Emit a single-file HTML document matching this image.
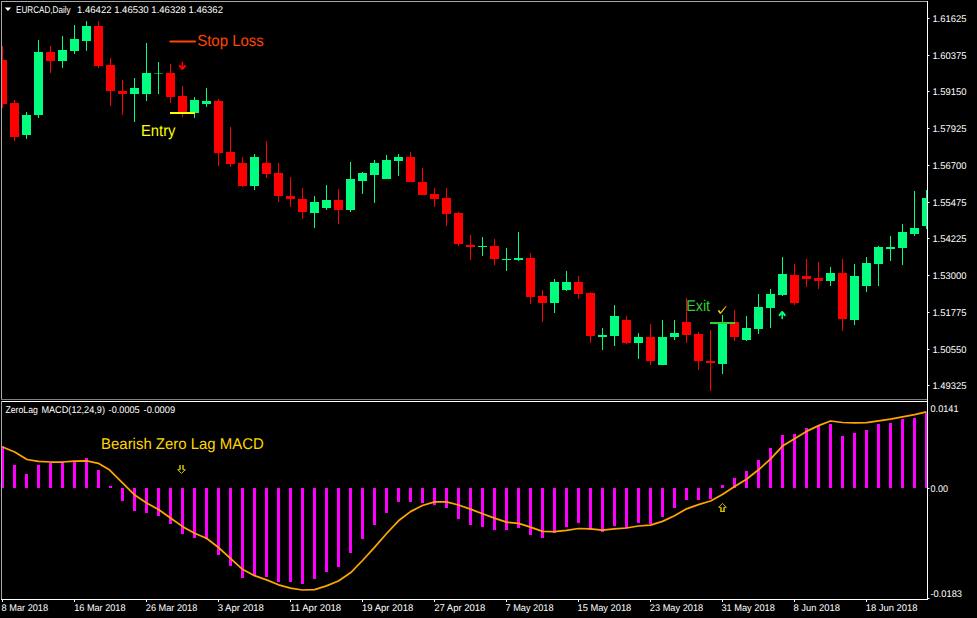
<!DOCTYPE html><html><head><meta charset="utf-8"><style>html,body{margin:0;padding:0;background:#000;}body{width:977px;height:618px;overflow:hidden;font-family:"Liberation Sans",sans-serif;}</style></head><body><svg width="977" height="618" viewBox="0 0 977 618" style="display:block">
<rect width="977" height="618" fill="#000"/>
<defs><clipPath id="cm"><rect x="2" y="2" width="925" height="397"/></clipPath><clipPath id="ci"><rect x="2" y="402" width="925" height="197"/></clipPath></defs>
<g clip-path="url(#cm)" shape-rendering="crispEdges">
<rect x="2" y="46" width="1" height="62" fill="#ff0000"/>
<rect x="-2" y="60" width="9" height="44" fill="#ff0000"/>
<rect x="14" y="100" width="1" height="41" fill="#ff0000"/>
<rect x="10" y="103" width="9" height="34" fill="#ff0000"/>
<rect x="26" y="112" width="1" height="27" fill="#00ff7f"/>
<rect x="22" y="115" width="9" height="20" fill="#00ff7f"/>
<rect x="38" y="40" width="1" height="78" fill="#00ff7f"/>
<rect x="34" y="52" width="9" height="63" fill="#00ff7f"/>
<rect x="50" y="46" width="1" height="27" fill="#ff0000"/>
<rect x="46" y="52" width="9" height="9" fill="#ff0000"/>
<rect x="62" y="36" width="1" height="32" fill="#00ff7f"/>
<rect x="58" y="50" width="9" height="11" fill="#00ff7f"/>
<rect x="74" y="25" width="1" height="29" fill="#00ff7f"/>
<rect x="70" y="39" width="9" height="12" fill="#00ff7f"/>
<rect x="86" y="21" width="1" height="30" fill="#00ff7f"/>
<rect x="82" y="26" width="9" height="15" fill="#00ff7f"/>
<rect x="98" y="21" width="1" height="47" fill="#ff0000"/>
<rect x="94" y="26" width="9" height="40" fill="#ff0000"/>
<rect x="110" y="58" width="1" height="48" fill="#ff0000"/>
<rect x="106" y="65" width="9" height="26" fill="#ff0000"/>
<rect x="122" y="80" width="1" height="35" fill="#ff0000"/>
<rect x="118" y="91" width="9" height="3" fill="#ff0000"/>
<rect x="134" y="78" width="1" height="44" fill="#00ff7f"/>
<rect x="130" y="88" width="9" height="6" fill="#00ff7f"/>
<rect x="146" y="43" width="1" height="58" fill="#00ff7f"/>
<rect x="142" y="73" width="9" height="21" fill="#00ff7f"/>
<rect x="158" y="62" width="1" height="32" fill="#00ff7f"/>
<rect x="154" y="73" width="9" height="1" fill="#00ff7f" opacity="0.5"/>
<rect x="170" y="64" width="1" height="39" fill="#ff0000"/>
<rect x="166" y="73" width="9" height="24" fill="#ff0000"/>
<rect x="182" y="86" width="1" height="31" fill="#ff0000"/>
<rect x="178" y="96" width="9" height="17" fill="#ff0000"/>
<rect x="194" y="97" width="1" height="21" fill="#00ff7f"/>
<rect x="190" y="100" width="9" height="13" fill="#00ff7f"/>
<rect x="206" y="88" width="1" height="19" fill="#00ff7f"/>
<rect x="202" y="101" width="9" height="3" fill="#00ff7f"/>
<rect x="218" y="99" width="1" height="67" fill="#ff0000"/>
<rect x="214" y="101" width="9" height="52" fill="#ff0000"/>
<rect x="230" y="127" width="1" height="40" fill="#ff0000"/>
<rect x="226" y="152" width="9" height="12" fill="#ff0000"/>
<rect x="242" y="157" width="1" height="30" fill="#ff0000"/>
<rect x="238" y="163" width="9" height="23" fill="#ff0000"/>
<rect x="254" y="154" width="1" height="36" fill="#00ff7f"/>
<rect x="250" y="157" width="9" height="29" fill="#00ff7f"/>
<rect x="266" y="141" width="1" height="37" fill="#ff0000"/>
<rect x="262" y="163" width="9" height="11" fill="#ff0000"/>
<rect x="278" y="163" width="1" height="39" fill="#ff0000"/>
<rect x="274" y="173" width="9" height="23" fill="#ff0000"/>
<rect x="290" y="177" width="1" height="30" fill="#ff0000"/>
<rect x="286" y="196" width="9" height="3" fill="#ff0000"/>
<rect x="302" y="188" width="1" height="31" fill="#ff0000"/>
<rect x="298" y="199" width="9" height="13" fill="#ff0000"/>
<rect x="314" y="196" width="1" height="32" fill="#00ff7f"/>
<rect x="310" y="202" width="9" height="11" fill="#00ff7f"/>
<rect x="326" y="185" width="1" height="25" fill="#00ff7f"/>
<rect x="322" y="200" width="9" height="8" fill="#00ff7f"/>
<rect x="338" y="189" width="1" height="35" fill="#ff0000"/>
<rect x="334" y="200" width="9" height="10" fill="#ff0000"/>
<rect x="350" y="162" width="1" height="50" fill="#00ff7f"/>
<rect x="346" y="179" width="9" height="31" fill="#00ff7f"/>
<rect x="362" y="172" width="1" height="22" fill="#00ff7f"/>
<rect x="358" y="173" width="9" height="8" fill="#00ff7f"/>
<rect x="374" y="160" width="1" height="43" fill="#00ff7f"/>
<rect x="370" y="163" width="9" height="12" fill="#00ff7f"/>
<rect x="386" y="155" width="1" height="24" fill="#00ff7f"/>
<rect x="382" y="160" width="9" height="19" fill="#00ff7f"/>
<rect x="398" y="154" width="1" height="22" fill="#00ff7f"/>
<rect x="394" y="157" width="9" height="4" fill="#00ff7f"/>
<rect x="410" y="152" width="1" height="30" fill="#ff0000"/>
<rect x="406" y="157" width="9" height="25" fill="#ff0000"/>
<rect x="422" y="168" width="1" height="27" fill="#ff0000"/>
<rect x="418" y="182" width="9" height="13" fill="#ff0000"/>
<rect x="434" y="188" width="1" height="19" fill="#ff0000"/>
<rect x="430" y="194" width="9" height="5" fill="#ff0000"/>
<rect x="446" y="188" width="1" height="38" fill="#ff0000"/>
<rect x="442" y="198" width="9" height="16" fill="#ff0000"/>
<rect x="458" y="212" width="1" height="34" fill="#ff0000"/>
<rect x="454" y="213" width="9" height="31" fill="#ff0000"/>
<rect x="470" y="235" width="1" height="25" fill="#ff0000"/>
<rect x="466" y="245" width="9" height="2" fill="#ff0000"/>
<rect x="482" y="237" width="1" height="19" fill="#00ff7f"/>
<rect x="478" y="246" width="9" height="1" fill="#00ff7f"/>
<rect x="494" y="239" width="1" height="26" fill="#ff0000"/>
<rect x="490" y="246" width="9" height="13" fill="#ff0000"/>
<rect x="506" y="248" width="1" height="23" fill="#00ff7f"/>
<rect x="502" y="259" width="9" height="1" fill="#00ff7f"/>
<rect x="518" y="232" width="1" height="29" fill="#00ff7f"/>
<rect x="514" y="258" width="9" height="2" fill="#00ff7f"/>
<rect x="530" y="253" width="1" height="51" fill="#ff0000"/>
<rect x="526" y="258" width="9" height="39" fill="#ff0000"/>
<rect x="542" y="290" width="1" height="32" fill="#ff0000"/>
<rect x="538" y="296" width="9" height="7" fill="#ff0000"/>
<rect x="554" y="279" width="1" height="34" fill="#00ff7f"/>
<rect x="550" y="282" width="9" height="21" fill="#00ff7f"/>
<rect x="566" y="271" width="1" height="20" fill="#00ff7f"/>
<rect x="562" y="282" width="9" height="8" fill="#00ff7f"/>
<rect x="578" y="276" width="1" height="23" fill="#ff0000"/>
<rect x="574" y="282" width="9" height="12" fill="#ff0000"/>
<rect x="590" y="292" width="1" height="51" fill="#ff0000"/>
<rect x="586" y="293" width="9" height="43" fill="#ff0000"/>
<rect x="602" y="328" width="1" height="22" fill="#00ff7f"/>
<rect x="598" y="335" width="9" height="2" fill="#00ff7f"/>
<rect x="614" y="305" width="1" height="41" fill="#00ff7f"/>
<rect x="610" y="316" width="9" height="20" fill="#00ff7f"/>
<rect x="626" y="316" width="1" height="28" fill="#ff0000"/>
<rect x="622" y="320" width="9" height="23" fill="#ff0000"/>
<rect x="638" y="333" width="1" height="26" fill="#00ff7f"/>
<rect x="634" y="337" width="9" height="6" fill="#00ff7f"/>
<rect x="650" y="324" width="1" height="41" fill="#ff0000"/>
<rect x="646" y="337" width="9" height="24" fill="#ff0000"/>
<rect x="662" y="320" width="1" height="45" fill="#00ff7f"/>
<rect x="658" y="337" width="9" height="28" fill="#00ff7f"/>
<rect x="674" y="320" width="1" height="20" fill="#00ff7f"/>
<rect x="670" y="333" width="9" height="4" fill="#00ff7f"/>
<rect x="686" y="298" width="1" height="45" fill="#ff0000"/>
<rect x="682" y="322" width="9" height="13" fill="#ff0000"/>
<rect x="698" y="332" width="1" height="38" fill="#ff0000"/>
<rect x="694" y="334" width="9" height="27" fill="#ff0000"/>
<rect x="710" y="330" width="1" height="61" fill="#ff0000"/>
<rect x="706" y="361" width="9" height="2" fill="#ff0000"/>
<rect x="722" y="315" width="1" height="59" fill="#00ff7f"/>
<rect x="718" y="323" width="9" height="41" fill="#00ff7f"/>
<rect x="734" y="310" width="1" height="31" fill="#ff0000"/>
<rect x="730" y="322" width="9" height="15" fill="#ff0000"/>
<rect x="746" y="316" width="1" height="25" fill="#00ff7f"/>
<rect x="742" y="328" width="9" height="12" fill="#00ff7f"/>
<rect x="758" y="294" width="1" height="40" fill="#00ff7f"/>
<rect x="754" y="307" width="9" height="22" fill="#00ff7f"/>
<rect x="770" y="289" width="1" height="39" fill="#00ff7f"/>
<rect x="766" y="294" width="9" height="14" fill="#00ff7f"/>
<rect x="782" y="257" width="1" height="39" fill="#00ff7f"/>
<rect x="778" y="274" width="9" height="21" fill="#00ff7f"/>
<rect x="794" y="264" width="1" height="41" fill="#ff0000"/>
<rect x="790" y="275" width="9" height="28" fill="#ff0000"/>
<rect x="806" y="259" width="1" height="28" fill="#ff0000"/>
<rect x="802" y="276" width="9" height="3" fill="#ff0000"/>
<rect x="818" y="262" width="1" height="27" fill="#ff0000"/>
<rect x="814" y="278" width="9" height="3" fill="#ff0000"/>
<rect x="830" y="267" width="1" height="19" fill="#00ff7f"/>
<rect x="826" y="273" width="9" height="8" fill="#00ff7f"/>
<rect x="842" y="259" width="1" height="72" fill="#ff0000"/>
<rect x="838" y="273" width="9" height="46" fill="#ff0000"/>
<rect x="854" y="264" width="1" height="61" fill="#00ff7f"/>
<rect x="850" y="276" width="9" height="44" fill="#00ff7f"/>
<rect x="866" y="257" width="1" height="35" fill="#00ff7f"/>
<rect x="862" y="263" width="9" height="23" fill="#00ff7f"/>
<rect x="878" y="246" width="1" height="40" fill="#00ff7f"/>
<rect x="874" y="247" width="9" height="17" fill="#00ff7f"/>
<rect x="890" y="236" width="1" height="25" fill="#00ff7f"/>
<rect x="886" y="247" width="9" height="2" fill="#00ff7f"/>
<rect x="902" y="224" width="1" height="41" fill="#00ff7f"/>
<rect x="898" y="232" width="9" height="16" fill="#00ff7f"/>
<rect x="914" y="191" width="1" height="45" fill="#00ff7f"/>
<rect x="910" y="228" width="9" height="6" fill="#00ff7f"/>
<rect x="926" y="190" width="1" height="39" fill="#00ff7f"/>
<rect x="922" y="198" width="9" height="28" fill="#00ff7f"/>
</g>
<g clip-path="url(#ci)" shape-rendering="crispEdges">
<rect x="1" y="446" width="3" height="42" fill="#ff00ff"/>
<rect x="13" y="465" width="3" height="23" fill="#ff00ff"/>
<rect x="25" y="474" width="3" height="14" fill="#ff00ff"/>
<rect x="37" y="465" width="3" height="23" fill="#ff00ff"/>
<rect x="49" y="463" width="3" height="25" fill="#ff00ff"/>
<rect x="61" y="462" width="3" height="26" fill="#ff00ff"/>
<rect x="73" y="461" width="3" height="27" fill="#ff00ff"/>
<rect x="85" y="458" width="3" height="30" fill="#ff00ff"/>
<rect x="97" y="470" width="3" height="18" fill="#ff00ff"/>
<rect x="109" y="486" width="3" height="2" fill="#ff00ff"/>
<rect x="121" y="488" width="3" height="13" fill="#ff00ff"/>
<rect x="133" y="488" width="3" height="23" fill="#ff00ff"/>
<rect x="145" y="488" width="3" height="25" fill="#ff00ff"/>
<rect x="157" y="488" width="3" height="28" fill="#ff00ff"/>
<rect x="169" y="488" width="3" height="36" fill="#ff00ff"/>
<rect x="181" y="488" width="3" height="46" fill="#ff00ff"/>
<rect x="193" y="488" width="3" height="50" fill="#ff00ff"/>
<rect x="205" y="488" width="3" height="50.5" fill="#ff00ff"/>
<rect x="217" y="488" width="3" height="67" fill="#ff00ff"/>
<rect x="229" y="488" width="3" height="78" fill="#ff00ff"/>
<rect x="241" y="488" width="3" height="90" fill="#ff00ff"/>
<rect x="253" y="488" width="3" height="88" fill="#ff00ff"/>
<rect x="265" y="488" width="3" height="89" fill="#ff00ff"/>
<rect x="277" y="488" width="3" height="94" fill="#ff00ff"/>
<rect x="289" y="488" width="3" height="94" fill="#ff00ff"/>
<rect x="301" y="488" width="3" height="96" fill="#ff00ff"/>
<rect x="313" y="488" width="3" height="91" fill="#ff00ff"/>
<rect x="325" y="488" width="3" height="84" fill="#ff00ff"/>
<rect x="337" y="488" width="3" height="79" fill="#ff00ff"/>
<rect x="349" y="488" width="3" height="65" fill="#ff00ff"/>
<rect x="361" y="488" width="3" height="51" fill="#ff00ff"/>
<rect x="373" y="488" width="3" height="37" fill="#ff00ff"/>
<rect x="385" y="488" width="3" height="25" fill="#ff00ff"/>
<rect x="397" y="488" width="3" height="14" fill="#ff00ff"/>
<rect x="409" y="488" width="3" height="14" fill="#ff00ff"/>
<rect x="421" y="488" width="3" height="15" fill="#ff00ff"/>
<rect x="433" y="488" width="3" height="17" fill="#ff00ff"/>
<rect x="445" y="488" width="3" height="20" fill="#ff00ff"/>
<rect x="457" y="488" width="3" height="31" fill="#ff00ff"/>
<rect x="469" y="488" width="3" height="37" fill="#ff00ff"/>
<rect x="481" y="488" width="3" height="39" fill="#ff00ff"/>
<rect x="493" y="488" width="3" height="42" fill="#ff00ff"/>
<rect x="505" y="488" width="3" height="42" fill="#ff00ff"/>
<rect x="517" y="488" width="3" height="40" fill="#ff00ff"/>
<rect x="529" y="488" width="3" height="47" fill="#ff00ff"/>
<rect x="541" y="488" width="3" height="50" fill="#ff00ff"/>
<rect x="553" y="488" width="3" height="45" fill="#ff00ff"/>
<rect x="565" y="488" width="3" height="39" fill="#ff00ff"/>
<rect x="577" y="488" width="3" height="35" fill="#ff00ff"/>
<rect x="589" y="488" width="3" height="42" fill="#ff00ff"/>
<rect x="601" y="488" width="3" height="44" fill="#ff00ff"/>
<rect x="613" y="488" width="3" height="38" fill="#ff00ff"/>
<rect x="625" y="488" width="3" height="40" fill="#ff00ff"/>
<rect x="637" y="488" width="3" height="35" fill="#ff00ff"/>
<rect x="649" y="488" width="3" height="36" fill="#ff00ff"/>
<rect x="661" y="488" width="3" height="29" fill="#ff00ff"/>
<rect x="673" y="488" width="3" height="20" fill="#ff00ff"/>
<rect x="685" y="488" width="3" height="12" fill="#ff00ff"/>
<rect x="697" y="488" width="3" height="12" fill="#ff00ff"/>
<rect x="709" y="488" width="3" height="11" fill="#ff00ff"/>
<rect x="721" y="485" width="3" height="3" fill="#ff00ff"/>
<rect x="733" y="478" width="3" height="10" fill="#ff00ff"/>
<rect x="745" y="471" width="3" height="17" fill="#ff00ff"/>
<rect x="757" y="459.5" width="3" height="28.5" fill="#ff00ff"/>
<rect x="769" y="448" width="3" height="40" fill="#ff00ff"/>
<rect x="781" y="435" width="3" height="53" fill="#ff00ff"/>
<rect x="793" y="434" width="3" height="54" fill="#ff00ff"/>
<rect x="805" y="428" width="3" height="60" fill="#ff00ff"/>
<rect x="817" y="426" width="3" height="62" fill="#ff00ff"/>
<rect x="829" y="424" width="3" height="64" fill="#ff00ff"/>
<rect x="841" y="436" width="3" height="52" fill="#ff00ff"/>
<rect x="853" y="433" width="3" height="55" fill="#ff00ff"/>
<rect x="865" y="430" width="3" height="58" fill="#ff00ff"/>
<rect x="877" y="424" width="3" height="64" fill="#ff00ff"/>
<rect x="889" y="423" width="3" height="65" fill="#ff00ff"/>
<rect x="901" y="419" width="3" height="69" fill="#ff00ff"/>
<rect x="913" y="418" width="3" height="70" fill="#ff00ff"/>
<rect x="925" y="413" width="3" height="75" fill="#ff00ff"/>
</g>
<polyline clip-path="url(#ci)" points="2.5,447 14.7,452 27,459.5 38.5,461.4 50.8,462 62.2,462 74.5,461.1 86.8,460.8 98.3,463.3 109.7,470.1 122,482.4 134.3,494.7 146.6,502.9 158.5,509.5 170.5,518 182.4,526.4 194.5,533.2 206.5,538.2 218.5,547.5 230.4,558.3 242.5,569.3 254.5,575.7 266.5,579.9 278.5,584.8 290.4,588.1 302.4,590 314.5,589.7 326.5,585.9 338.4,581 350.5,572.8 362.5,560.5 374.5,547.4 386.6,533.5 398.5,520.8 410.5,511.6 422.4,505.5 434.6,501.8 446.5,501.8 458.5,505 470.4,509.1 482.5,513.7 494.5,518.1 506.4,522.2 518.6,523.4 530.5,527.1 542.5,531.4 554.6,531.6 566.5,530.4 578.5,528.5 590.4,528.8 602.4,530.1 614.5,528.8 626.5,528 638.4,526 650.5,525.2 662.5,521.4 674.5,515.7 686.6,508.8 698.5,504.6 710.5,501 722.4,494.4 734.6,486.6 746.5,479.2 758.5,469.8 770.4,459.2 782.5,446.1 794.5,438.7 806.4,431.4 818.6,425.6 830.5,421 842.5,422.5 854.5,422.9 866.6,422.6 878.6,420.8 890.5,419.2 902.5,416.9 914.6,414.7 926.4,411.8" fill="none" stroke="#ffa500" stroke-width="1.75" stroke-linejoin="round"/>
<g shape-rendering="crispEdges">
<rect x="1" y="1" width="927" height="1" fill="#a8a8a8"/>
<rect x="1" y="1" width="1" height="399" fill="#a8a8a8"/>
<rect x="1" y="399" width="927" height="1" fill="#808080"/>
<rect x="1" y="401" width="927" height="1" fill="#ffffff"/>
<rect x="1" y="401" width="1" height="199" fill="#a8a8a8"/>
<rect x="1" y="599" width="927" height="1" fill="#ffffff"/>
<rect x="927" y="1" width="1" height="599" fill="#ffffff"/>
<rect x="928" y="18" width="1.5" height="1" fill="#ffffff" shape-rendering="auto"/>
<rect x="928" y="55" width="1.5" height="1" fill="#ffffff" shape-rendering="auto"/>
<rect x="928" y="91" width="1.5" height="1" fill="#ffffff" shape-rendering="auto"/>
<rect x="928" y="128" width="1.5" height="1" fill="#ffffff" shape-rendering="auto"/>
<rect x="928" y="165" width="1.5" height="1" fill="#ffffff" shape-rendering="auto"/>
<rect x="928" y="202" width="1.5" height="1" fill="#ffffff" shape-rendering="auto"/>
<rect x="928" y="238" width="1.5" height="1" fill="#ffffff" shape-rendering="auto"/>
<rect x="928" y="275" width="1.5" height="1" fill="#ffffff" shape-rendering="auto"/>
<rect x="928" y="312" width="1.5" height="1" fill="#ffffff" shape-rendering="auto"/>
<rect x="928" y="349" width="1.5" height="1" fill="#ffffff" shape-rendering="auto"/>
<rect x="928" y="385" width="1.5" height="1" fill="#ffffff" shape-rendering="auto"/>
<rect x="928" y="488" width="1.5" height="1" fill="#ffffff" shape-rendering="auto"/>
<rect x="928" y="598" width="1.5" height="1" fill="#ffffff" shape-rendering="auto"/>
<rect x="2" y="600" width="1" height="2" fill="#ffffff"/>
<rect x="74" y="600" width="1" height="2" fill="#ffffff"/>
<rect x="146" y="600" width="1" height="2" fill="#ffffff"/>
<rect x="218" y="600" width="1" height="2" fill="#ffffff"/>
<rect x="290" y="600" width="1" height="2" fill="#ffffff"/>
<rect x="362" y="600" width="1" height="2" fill="#ffffff"/>
<rect x="434" y="600" width="1" height="2" fill="#ffffff"/>
<rect x="506" y="600" width="1" height="2" fill="#ffffff"/>
<rect x="578" y="600" width="1" height="2" fill="#ffffff"/>
<rect x="650" y="600" width="1" height="2" fill="#ffffff"/>
<rect x="722" y="600" width="1" height="2" fill="#ffffff"/>
<rect x="794" y="600" width="1" height="2" fill="#ffffff"/>
<rect x="866" y="600" width="1" height="2" fill="#ffffff"/>
</g>
<text x="932.4" y="22" font-family="Liberation Sans, sans-serif" text-rendering="geometricPrecision" font-size="9.7" fill="#fff" textLength="34" lengthAdjust="spacingAndGlyphs" >1.61625</text>
<text x="932.4" y="59" font-family="Liberation Sans, sans-serif" text-rendering="geometricPrecision" font-size="9.7" fill="#fff" textLength="34" lengthAdjust="spacingAndGlyphs" >1.60375</text>
<text x="932.4" y="95" font-family="Liberation Sans, sans-serif" text-rendering="geometricPrecision" font-size="9.7" fill="#fff" textLength="34" lengthAdjust="spacingAndGlyphs" >1.59150</text>
<text x="932.4" y="132" font-family="Liberation Sans, sans-serif" text-rendering="geometricPrecision" font-size="9.7" fill="#fff" textLength="34" lengthAdjust="spacingAndGlyphs" >1.57925</text>
<text x="932.4" y="169" font-family="Liberation Sans, sans-serif" text-rendering="geometricPrecision" font-size="9.7" fill="#fff" textLength="34" lengthAdjust="spacingAndGlyphs" >1.56700</text>
<text x="932.4" y="206" font-family="Liberation Sans, sans-serif" text-rendering="geometricPrecision" font-size="9.7" fill="#fff" textLength="34" lengthAdjust="spacingAndGlyphs" >1.55475</text>
<text x="932.4" y="242" font-family="Liberation Sans, sans-serif" text-rendering="geometricPrecision" font-size="9.7" fill="#fff" textLength="34" lengthAdjust="spacingAndGlyphs" >1.54225</text>
<text x="932.4" y="279" font-family="Liberation Sans, sans-serif" text-rendering="geometricPrecision" font-size="9.7" fill="#fff" textLength="34" lengthAdjust="spacingAndGlyphs" >1.53000</text>
<text x="932.4" y="316" font-family="Liberation Sans, sans-serif" text-rendering="geometricPrecision" font-size="9.7" fill="#fff" textLength="34" lengthAdjust="spacingAndGlyphs" >1.51775</text>
<text x="932.4" y="353" font-family="Liberation Sans, sans-serif" text-rendering="geometricPrecision" font-size="9.7" fill="#fff" textLength="34" lengthAdjust="spacingAndGlyphs" >1.50550</text>
<text x="932.4" y="389" font-family="Liberation Sans, sans-serif" text-rendering="geometricPrecision" font-size="9.7" fill="#fff" textLength="34" lengthAdjust="spacingAndGlyphs" >1.49325</text>
<text x="930.5" y="412" font-family="Liberation Sans, sans-serif" text-rendering="geometricPrecision" font-size="9.7" fill="#fff" textLength="28" lengthAdjust="spacingAndGlyphs" >0.0141</text>
<text x="930.5" y="492" font-family="Liberation Sans, sans-serif" text-rendering="geometricPrecision" font-size="9.7" fill="#fff" textLength="17.5" lengthAdjust="spacingAndGlyphs" >0.00</text>
<text x="930.5" y="597" font-family="Liberation Sans, sans-serif" text-rendering="geometricPrecision" font-size="9.7" fill="#fff" textLength="31.5" lengthAdjust="spacingAndGlyphs" >-0.0183</text>
<text x="1.6" y="611" font-family="Liberation Sans, sans-serif" text-rendering="geometricPrecision" font-size="9.7" fill="#fff" textLength="46.5" lengthAdjust="spacingAndGlyphs" >8 Mar 2018</text>
<text x="74.2" y="611" font-family="Liberation Sans, sans-serif" text-rendering="geometricPrecision" font-size="9.7" fill="#fff" textLength="51.3" lengthAdjust="spacingAndGlyphs" >16 Mar 2018</text>
<text x="145.8" y="611" font-family="Liberation Sans, sans-serif" text-rendering="geometricPrecision" font-size="9.7" fill="#fff" textLength="51.5" lengthAdjust="spacingAndGlyphs" >26 Mar 2018</text>
<text x="217.7" y="611" font-family="Liberation Sans, sans-serif" text-rendering="geometricPrecision" font-size="9.7" fill="#fff" textLength="46.2" lengthAdjust="spacingAndGlyphs" >3 Apr 2018</text>
<text x="290" y="611" font-family="Liberation Sans, sans-serif" text-rendering="geometricPrecision" font-size="9.7" fill="#fff" textLength="51.2" lengthAdjust="spacingAndGlyphs" >11 Apr 2018</text>
<text x="362" y="611" font-family="Liberation Sans, sans-serif" text-rendering="geometricPrecision" font-size="9.7" fill="#fff" textLength="51.2" lengthAdjust="spacingAndGlyphs" >19 Apr 2018</text>
<text x="434.2" y="611" font-family="Liberation Sans, sans-serif" text-rendering="geometricPrecision" font-size="9.7" fill="#fff" textLength="51.2" lengthAdjust="spacingAndGlyphs" >27 Apr 2018</text>
<text x="505.6" y="611" font-family="Liberation Sans, sans-serif" text-rendering="geometricPrecision" font-size="9.7" fill="#fff" textLength="47.9" lengthAdjust="spacingAndGlyphs" >7 May 2018</text>
<text x="577.5" y="611" font-family="Liberation Sans, sans-serif" text-rendering="geometricPrecision" font-size="9.7" fill="#fff" textLength="53.8" lengthAdjust="spacingAndGlyphs" >15 May 2018</text>
<text x="649.8" y="611" font-family="Liberation Sans, sans-serif" text-rendering="geometricPrecision" font-size="9.7" fill="#fff" textLength="53.4" lengthAdjust="spacingAndGlyphs" >23 May 2018</text>
<text x="721.4" y="611" font-family="Liberation Sans, sans-serif" text-rendering="geometricPrecision" font-size="9.7" fill="#fff" textLength="53.5" lengthAdjust="spacingAndGlyphs" >31 May 2018</text>
<text x="793.5" y="611" font-family="Liberation Sans, sans-serif" text-rendering="geometricPrecision" font-size="9.7" fill="#fff" textLength="46.5" lengthAdjust="spacingAndGlyphs" >8 Jun 2018</text>
<text x="865.7" y="611" font-family="Liberation Sans, sans-serif" text-rendering="geometricPrecision" font-size="9.7" fill="#fff" textLength="51.8" lengthAdjust="spacingAndGlyphs" >18 Jun 2018</text>
<path d="M4.8 7.5 L11.1 7.5 L7.95 11.1 Z" fill="#fff"/>
<text x="16" y="12.9" font-family="Liberation Sans, sans-serif" text-rendering="geometricPrecision" font-size="9.7" fill="#fff" textLength="54.6" lengthAdjust="spacingAndGlyphs" >EURCAD,Daily</text>
<text x="77" y="12.9" font-family="Liberation Sans, sans-serif" text-rendering="geometricPrecision" font-size="9.7" fill="#fff" textLength="146" lengthAdjust="spacingAndGlyphs" >1.46422 1.46530 1.46328 1.46362</text>
<text x="5.4" y="413.2" font-family="Liberation Sans, sans-serif" text-rendering="geometricPrecision" font-size="9.7" fill="#fff" textLength="32.5" lengthAdjust="spacingAndGlyphs" >ZeroLag</text>
<text x="41.4" y="413.2" font-family="Liberation Sans, sans-serif" text-rendering="geometricPrecision" font-size="9.7" fill="#fff" textLength="63.6" lengthAdjust="spacingAndGlyphs" >MACD(12,24,9)</text>
<text x="108.6" y="413.2" font-family="Liberation Sans, sans-serif" text-rendering="geometricPrecision" font-size="9.7" fill="#fff" textLength="31.1" lengthAdjust="spacingAndGlyphs" >-0.0005</text>
<text x="143.6" y="413.2" font-family="Liberation Sans, sans-serif" text-rendering="geometricPrecision" font-size="9.7" fill="#fff" textLength="31.5" lengthAdjust="spacingAndGlyphs" >-0.0009</text>
<line x1="170.5" y1="41.5" x2="195" y2="41.5" stroke="#ff4500" stroke-width="2.2" stroke-linecap="round"/>
<text x="197.2" y="46.3" font-family="Liberation Sans, sans-serif" text-rendering="geometricPrecision" font-size="16" fill="#ff4500" textLength="66.6" lengthAdjust="spacingAndGlyphs" >Stop Loss</text>
<rect x="170" y="112" width="25" height="2" fill="#ffff00" shape-rendering="crispEdges"/>
<text x="141" y="136" font-family="Liberation Sans, sans-serif" text-rendering="geometricPrecision" font-size="16" fill="#ffff00" textLength="34.5" lengthAdjust="spacingAndGlyphs" >Entry</text>
<rect x="710" y="322" width="25" height="2" fill="#32cd32" shape-rendering="crispEdges"/>
<text x="686.2" y="310.9" font-family="Liberation Sans, sans-serif" text-rendering="geometricPrecision" font-size="15.5" fill="#32cd32" textLength="23.9" lengthAdjust="spacingAndGlyphs" >Exit</text>
<text x="101.1" y="448.8" font-family="Liberation Sans, sans-serif" text-rendering="geometricPrecision" font-size="15.5" fill="#ffd700" textLength="162.6" lengthAdjust="spacingAndGlyphs" >Bearish Zero Lag MACD</text>
<path d="M182.4 62.4 V68.5" fill="none" stroke="#ff0000" stroke-width="1.6" stroke-linecap="round"/><path d="M179.7 65.9 L182.4 69 L185.1 65.9" fill="none" stroke="#ff0000" stroke-width="2" stroke-linecap="round" stroke-linejoin="round"/>
<path d="M782.2 318.6 V312.5" fill="none" stroke="#00ff7f" stroke-width="1.6" stroke-linecap="round"/><path d="M779.6 315.2 L782.2 312 L784.8 315.2" fill="none" stroke="#00ff7f" stroke-width="2" stroke-linecap="round" stroke-linejoin="round"/>
<defs><linearGradient id="ck" x1="0" y1="1" x2="1" y2="0"><stop offset="0" stop-color="#ffe000"/><stop offset="0.55" stop-color="#ffd000"/><stop offset="1" stop-color="#e07000"/></linearGradient></defs>
<path d="M718.5 310.4 L720.5 313.4" fill="none" stroke="#ffe000" stroke-width="1.7"/><path d="M720.3 313.5 L726.2 306.2" fill="none" stroke="url(#ck)" stroke-width="1.15" gradientUnits="userSpaceOnUse"/>
<path d="M180 465 V469.8 M183 465 V469.8" fill="none" stroke="#d8c400" stroke-width="1.5"/><path d="M180 469.7 H177.6 L181.5 473.5 L185.4 469.7 H183" fill="none" stroke="#d0c000" stroke-width="1"/>
<path d="M721 511.8 V507.2 M724 511.8 V507.2" fill="none" stroke="#d8c400" stroke-width="1.5"/><path d="M720.3 511.4 H724.7" fill="none" stroke="#e0d000" stroke-width="1"/><path d="M721 507.3 H718.6 L722.5 503.4 L726.4 507.3 H724" fill="none" stroke="#d0c000" stroke-width="1"/>
</svg></body></html>
